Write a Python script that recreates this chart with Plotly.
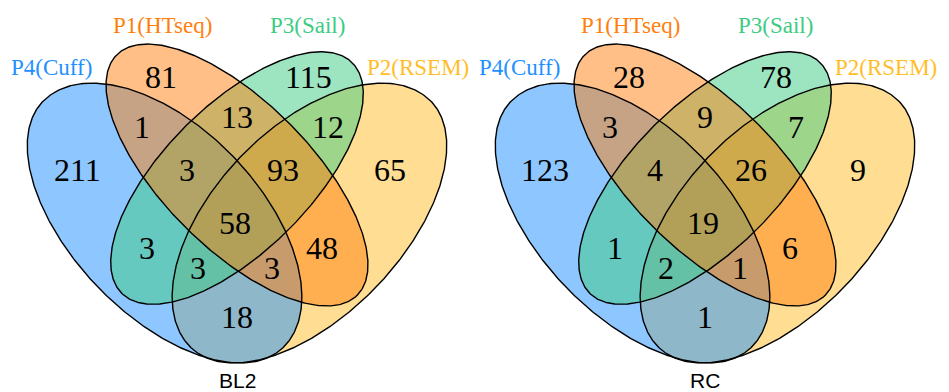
import numpy as np
import plotly.graph_objects as go

# ---- data -------------------------------------------------------------
set_names = ["P4(Cuff)", "P1(HTseq)", "P3(Sail)", "P2(RSEM)"]
panel_titles = ["BL2", "RC"]

# region keys: which sets a region belongs to
regions = ["P1", "P3", "P1P4", "P1P3", "P2P3", "P4", "P1P3P4", "P1P2P3", "P2",
           "P1P2P3P4", "P3P4", "P1P2", "P2P3P4", "P1P2P4", "P2P4"]
counts_bl2 = [81, 115, 1, 13, 12, 211, 3, 93, 65, 58, 3, 48, 3, 3, 18]
counts_rc = [28, 78, 3, 9, 7, 123, 4, 26, 9, 19, 1, 6, 2, 1, 1]
panel_counts = [counts_bl2, counts_rc]

# ---- layout / style ---------------------------------------------------
W, H = 949, 392
panel_dx = [0, 468]
axis_x = 237  # mirror axis of each panel

label_pos = {
    "P1": (161, 77), "P3": (308, 77), "P1P4": (142, 127), "P1P3": (237, 117),
    "P2P3": (328, 127), "P4": (77, 170), "P1P3P4": (187, 170),
    "P1P2P3": (283, 170), "P2": (390, 170), "P1P2P3P4": (235, 223),
    "P3P4": (147, 248), "P1P2": (322, 248), "P2P3P4": (198, 268),
    "P1P2P4": (272, 268), "P2P4": (237, 317),
}
set_label_pos = [(51, 67), (162, 25), (307, 25), (418, 67)]
set_label_colors = ["rgb(30,144,255)", "rgb(255,127,14)", "rgb(60,204,130)", "rgb(255,190,40)"]
title_pos = (237, 380)


def outline(cx, cy, a, b_pos, b_neg, ang_deg, mirror=False, n=500):
    t = np.linspace(0, 2 * np.pi, n)
    u = a * np.cos(t)
    s = np.sin(t)
    v = np.where(s >= 0, b_pos * s, b_neg * s)
    th = np.radians(ang_deg)
    x = cx + u * np.cos(th) + v * np.sin(th)
    y = cy + u * np.sin(th) - v * np.cos(th)
    if mirror:
        x = 2 * axis_x - x
    return x, y


# shape geometry: (cx, cy, a, b_pos, b_neg, angle, mirror), drawn bottom to top
shapes = {
    "P2": (163.5, 224, 172, 97, 91, 46, True),
    "P4": (163.5, 224, 172, 97, 91, 46, False),
    "P3": (237, 178, 163, 73, 73, 45, True),
    "P1": (237, 175, 170, 73.5, 73.5, 45, False),
}
fill_colors = {
    "P2": "rgba(255,190,40,0.5)",
    "P4": "rgba(30,144,255,0.5)",
    "P3": "rgba(60,204,130,0.5)",
    "P1": "rgba(255,127,14,0.5)",
}

fig = go.Figure()

for p, dx in enumerate(panel_dx):
    outlines = []
    for key, (cx, cy, a, bp, bn, ang, mir) in shapes.items():
        x, y = outline(cx, cy, a, bp, bn, ang, mir)
        x = x + dx
        outlines.append((x, y))
        fig.add_trace(go.Scatter(x=x, y=y, mode="lines", fill="toself",
                                 fillcolor=fill_colors[key], line=dict(width=0),
                                 hoverinfo="skip", showlegend=False))
    for x, y in outlines:
        fig.add_trace(go.Scatter(x=x, y=y, mode="lines",
                                 line=dict(color="black", width=1.4),
                                 hoverinfo="skip", showlegend=False))

annotations = []
for p, dx in enumerate(panel_dx):
    for reg, val in zip(regions, panel_counts[p]):
        lx, ly = label_pos[reg]
        annotations.append(dict(x=lx + dx, y=ly, text=str(val), showarrow=False,
                                xanchor="center", yanchor="middle",
                                font=dict(family="Liberation Serif", size=32, color="black")))
    for name, (lx, ly), col in zip(set_names, set_label_pos, set_label_colors):
        annotations.append(dict(x=lx + dx, y=ly, text=name, showarrow=False,
                                xanchor="center", yanchor="middle",
                                font=dict(family="Liberation Serif", size=23, color=col)))
    annotations.append(dict(x=title_pos[0] + dx, y=title_pos[1], text=panel_titles[p],
                            showarrow=False, xanchor="center", yanchor="middle",
                            font=dict(family="Liberation Sans", size=21, color="black")))

fig.update_layout(
    width=W, height=H, margin=dict(l=0, r=0, t=0, b=0),
    paper_bgcolor="white", plot_bgcolor="white",
    xaxis=dict(range=[0, W], visible=False, fixedrange=True),
    yaxis=dict(range=[H, 0], visible=False, fixedrange=True),
    annotations=annotations,
)

fig.write_html("out.html")
